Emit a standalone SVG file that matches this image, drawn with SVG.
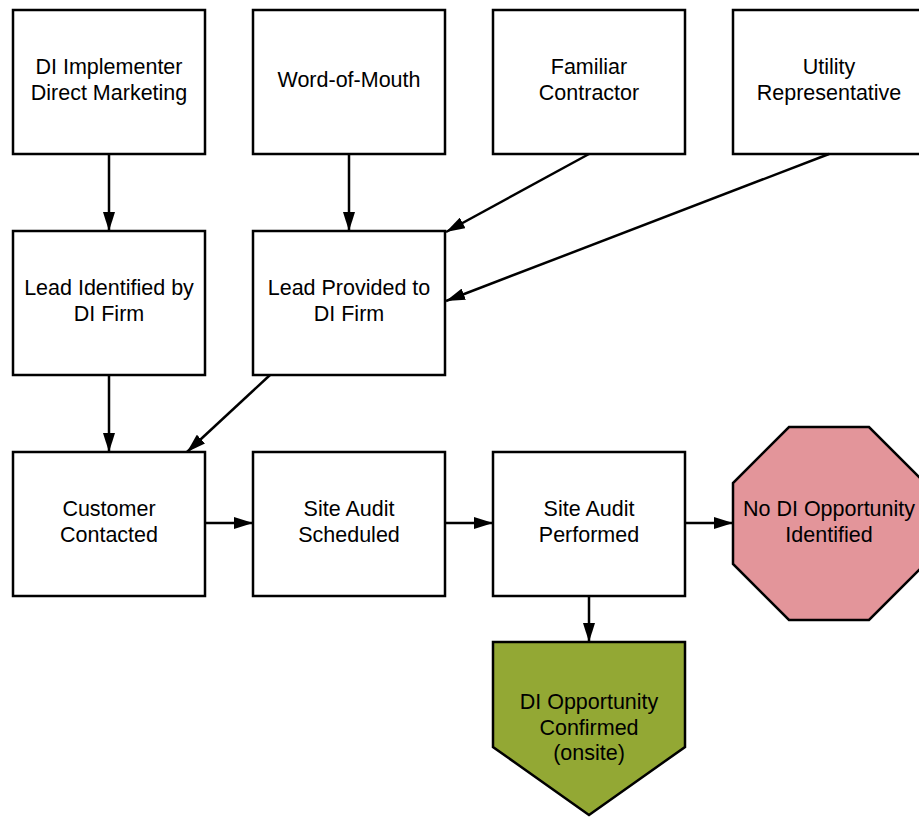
<svg xmlns="http://www.w3.org/2000/svg" width="919" height="817" viewBox="0 0 919 817">
<defs>
<marker id="ah" markerWidth="20" markerHeight="12" refX="19" refY="6" orient="auto" markerUnits="userSpaceOnUse">
<path d="M0,0 L19,6 L0,12 Z" fill="#000"/>
</marker>
<style>
.box{fill:#fff;stroke:#000;stroke-width:2.5}
.t{font-family:"Liberation Sans",Arial,sans-serif;font-size:21.5px;fill:#000;text-anchor:middle}
.c{fill:none;stroke:#000;stroke-width:2.5;marker-end:url(#ah)}
</style>
</defs>
<rect width="919" height="817" fill="#fff"/>
<g id="n1"><rect class="box" x="13" y="10" width="192" height="144"/><text class="t" x="109" y="74">DI Implementer</text><text class="t" x="109" y="100">Direct Marketing</text></g>
<g id="n2"><rect class="box" x="253" y="10" width="192" height="144"/><text class="t" x="349" y="87">Word-of-Mouth</text></g>
<g id="n3"><rect class="box" x="493" y="10" width="192" height="144"/><text class="t" x="589" y="74">Familiar</text><text class="t" x="589" y="100">Contractor</text></g>
<g id="n4"><rect class="box" x="733" y="10" width="192" height="144"/><text class="t" x="829" y="74">Utility</text><text class="t" x="829" y="100">Representative</text></g>
<g id="n5"><rect class="box" x="13" y="231" width="192" height="144"/><text class="t" x="109" y="295">Lead Identified by</text><text class="t" x="109" y="321">DI Firm</text></g>
<g id="n6"><rect class="box" x="253" y="231" width="192" height="144"/><text class="t" x="349" y="295">Lead Provided to</text><text class="t" x="349" y="321">DI Firm</text></g>
<g id="n7"><rect class="box" x="13" y="452" width="192" height="144"/><text class="t" x="109" y="516">Customer</text><text class="t" x="109" y="542">Contacted</text></g>
<g id="n8"><rect class="box" x="253" y="452" width="192" height="144"/><text class="t" x="349" y="516">Site Audit</text><text class="t" x="349" y="542">Scheduled</text></g>
<g id="n9"><rect class="box" x="493" y="452" width="192" height="144"/><text class="t" x="589" y="516">Site Audit</text><text class="t" x="589" y="542">Performed</text></g>
<g id="n10"><polygon points="789,427 869,427 925,483 925,564 869,620 789,620 733,564 733,483" fill="#e3959a" stroke="#000" stroke-width="2.5"/><text class="t" x="829" y="516">No DI Opportunity</text><text class="t" x="829" y="542">Identified</text></g>
<g id="n11"><polygon points="493,642 685,642 685,747 589,815 493,747" fill="#93a834" stroke="#000" stroke-width="2.5"/><text class="t" x="589" y="709">DI Opportunity</text><text class="t" x="589" y="735">Confirmed</text><text class="t" x="589" y="760">(onsite)</text></g>
<g id="connectors">
<line class="c" x1="109" y1="154" x2="109" y2="231"/>
<line class="c" x1="349" y1="154" x2="349" y2="231"/>
<line class="c" x1="589" y1="154" x2="446" y2="232"/>
<line class="c" x1="829" y1="154" x2="446" y2="301"/>
<line class="c" x1="109" y1="375" x2="109" y2="452"/>
<line class="c" x1="270" y1="375" x2="187" y2="452"/>
<line class="c" x1="205" y1="523" x2="253" y2="523"/>
<line class="c" x1="445" y1="523" x2="493" y2="523"/>
<line class="c" x1="685" y1="523" x2="733" y2="523"/>
<line class="c" x1="589" y1="596" x2="589" y2="642"/>
</g>
</svg>
